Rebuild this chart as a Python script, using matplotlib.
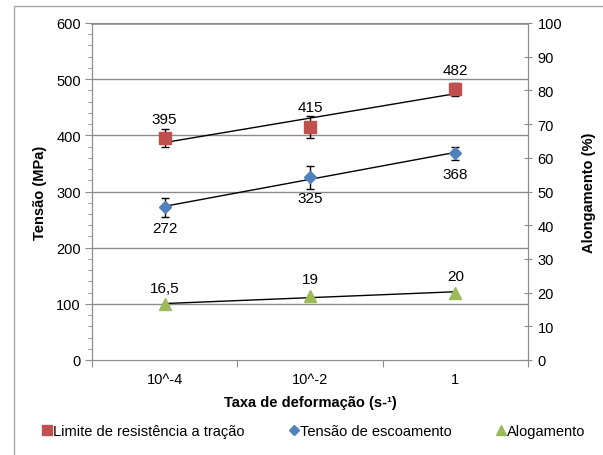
import matplotlib.pyplot as plt
import numpy as np
from matplotlib.lines import Line2D
from matplotlib.patches import Rectangle

plt.rcParams['font.family'] = ['Liberation Sans', 'DejaVu Sans']

categorias = ['10^-4', '10^-2', '1']
limite_resistencia = [395, 415, 482]
limite_erro = [16, 20, 12]
tensao_escoamento = [272, 325, 368]
tensao_erro = [17, 20, 12]
alongamento = [16.5, 19, 20]
alongamento_rotulos = ['16,5', '19', '20']

VERMELHO = '#C0504D'
AZUL = '#4F81BD'
VERDE = '#9BBB59'
CINZA = '#8C8C8C'

fig = plt.figure(figsize=(6.03, 4.56), dpi=100)
ax = fig.add_axes([92 / 603, 1 - 361 / 456, 436 / 603, 337 / 456])
ax2 = ax.twinx()

x = np.arange(len(categorias))

# borda da área do gráfico
fig.patches.append(Rectangle((14 / 603, -0.1), 1.2, (456 - 7) / 456 + 0.1,
                             transform=fig.transFigure, fill=False,
                             edgecolor='#A6A6A6', linewidth=1))

ax.set_ylim(0, 600)
ax.set_xlim(-0.5, 2.5)
ax2.set_ylim(0, 100)

for y in range(100, 600, 100):
    ax.axhline(y, color=CINZA, linewidth=1, zorder=0)
# linha de grade do topo (600)
fig.add_artist(Line2D([92 / 603, 528 / 603], [1 - 24.5 / 456, 1 - 24.5 / 456],
                      transform=fig.transFigure, color=CINZA, linewidth=1.2))

# linhas de tendência
for serie, eixo in [(limite_resistencia, ax), (tensao_escoamento, ax), (alongamento, ax2)]:
    coef = np.polyfit(x, serie, 1)
    eixo.plot(x, np.polyval(coef, x), color='black', linewidth=1, zorder=3)

ax.errorbar(x, limite_resistencia, yerr=limite_erro, fmt='s', color=VERMELHO,
            markersize=8, ecolor='black', elinewidth=1, capsize=3, zorder=4)
ax.errorbar(x, tensao_escoamento, yerr=tensao_erro, fmt='D', color=AZUL,
            markersize=6, ecolor='black', elinewidth=1, capsize=3, zorder=4)
ax2.plot(x, alongamento, '^', color=VERDE, markersize=9, zorder=4)

for xi, v in zip(x, limite_resistencia):
    ax.annotate(str(v), (xi, v), xytext=(0, 14), textcoords='offset points',
                ha='center', va='center', fontsize=11)
for xi, v in zip(x, tensao_escoamento):
    ax.annotate(str(v), (xi, v), xytext=(0, -15), textcoords='offset points',
                ha='center', va='center', fontsize=11)
for xi, v, r in zip(x, alongamento, alongamento_rotulos):
    ax2.annotate(r, (xi, v), xytext=(0, 12), textcoords='offset points',
                 ha='center', va='center', fontsize=11)

ax.set_yticks(range(0, 601, 100))
ax.set_yticks(range(0, 601, 20), minor=True)
ax2.set_yticks(range(0, 101, 10))
ax.set_xticks([-0.5, 0.5, 1.5, 2.5])
ax.set_xticklabels([])
ax.set_xticks(x, minor=True)
ax.set_xticklabels(categorias, minor=True)

ax.tick_params(axis='y', which='major', length=5, color=CINZA, labelsize=10.5, pad=3)
ax.tick_params(axis='y', which='minor', length=3, color=CINZA)
ax.tick_params(axis='x', which='major', length=5, color=CINZA)
ax.tick_params(axis='x', which='minor', length=0, labelsize=10.5, pad=9)
ax2.tick_params(axis='y', length=6, direction='inout', color=CINZA, labelsize=10.5, pad=4)

for eixo in (ax, ax2):
    for lado in ['left', 'right', 'bottom', 'top']:
        eixo.spines[lado].set_color(CINZA)
ax2.spines['top'].set_visible(False)

ax.set_ylabel('Tensão (MPa)', fontsize=10.5, fontweight='bold', labelpad=7)
ax2.set_ylabel('Alongamento (%)', fontsize=10.5, fontweight='bold', labelpad=14)
ax.set_xlabel('Taxa de deformação (s-¹)', fontsize=10.5, fontweight='bold', labelpad=6)

handles = [
    Line2D([], [], marker='s', linestyle='none', color=VERMELHO, markersize=7),
    Line2D([], [], marker='D', linestyle='none', color=AZUL, markersize=5),
    Line2D([], [], marker='^', linestyle='none', color=VERDE, markersize=7),
]
labels = ['Limite de resistência a tração', 'Tensão de escoamento', 'Alogamento']
fig.legend(handles, labels, loc='center', bbox_to_anchor=(0.52, 1 - 432 / 456),
           ncol=3, frameon=False, fontsize=10.5, handlelength=0.7,
           handletextpad=0.1, columnspacing=3.0)

fig.savefig('out.png', dpi=100)
